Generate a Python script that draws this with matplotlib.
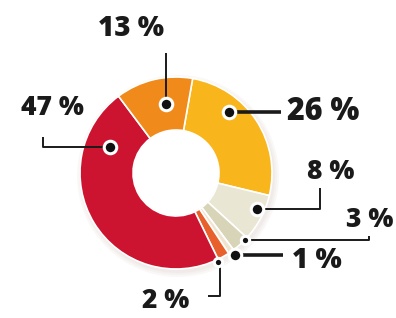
import matplotlib.pyplot as plt

# Slice shares, clockwise from the top
shares = [26, 8, 3, 1, 2, 47, 13]
labels = ["26 %", "8 %", "3 %", "1 %", "2 %", "47 %", "13 %"]
colors = ["#F9B51C", "#E9E6D4", "#D8D4B8", "#F1E4CF", "#E8602C", "#CC1430", "#F08A1B"]

W, H = 396, 318
CX, CY = 176, 173  # donut centre in pixel coords (y from top)

fig = plt.figure(figsize=(W / 100, H / 100), dpi=100)
ax = fig.add_axes([0, 0, 1, 1])


def fy(y):
    # image y (from top) -> axes y
    return H - y


# soft shadow behind the ring
for i in range(3):
    sh = plt.Circle((CX + 2, fy(CY + 3)), 97 + 2 * i, color="#a08070", alpha=0.05, lw=0)
    ax.add_patch(sh)

ax.pie(shares, colors=colors, startangle=80, counterclock=False,
       radius=96, center=(CX, fy(CY)), frame=True,
       wedgeprops=dict(width=53, edgecolor="white", linewidth=1.2))
# keep the hole clean
ax.add_patch(plt.Circle((CX, fy(CY)), 42.5, color="white", lw=0, zorder=3))
ax.set_xlim(0, W)
ax.set_ylim(0, H)
ax.axis("off")

# label layout: text position, alignment, size, dot, leader path, line width, dot size
layout = {
    "13 %": ((131, 29), "center", 20, (166, 104), [(166, 104), (166, 53)], 1.4, 9),
    "26 %": ((287, 112), "left", 22, (229, 112), [(229, 112), (281, 112)], 2.6, 9),
    "47 %": ((52, 108), "center", 19, (110, 147), [(110, 147), (43, 147), (43, 137)], 1.4, 9),
    "8 %": ((331, 172), "center", 19, (257, 209), [(257, 209), (320, 209), (320, 188)], 1.4, 9),
    "3 %": ((370, 220), "center", 19, (245, 240), [(245, 240), (369, 240), (369, 236)], 1.4, 6),
    "1 %": ((292, 261), "left", 20, (235, 255), [(235, 255), (283, 255)], 2.6, 9),
    "2 %": ((166, 301), "center", 19, (218, 262), [(220, 263), (220, 296), (208, 296)], 1.4, 6),
}

for lab in labels:
    (tx, ty), ha, fs, (dx, dy), path, lw, ms = layout[lab]
    xs = [p[0] for p in path]
    ys = [fy(p[1]) for p in path]
    ax.plot(xs, ys, color="#1a1a1a", lw=lw, solid_capstyle="butt", zorder=5)
    ax.plot(dx, fy(dy), "o", ms=ms, color="#111111", mec="white", mew=2.2, zorder=6)
    ax.text(tx, fy(ty), lab, ha=ha, va="center", fontsize=fs, fontweight="heavy",
            family=["Open Sans", "DejaVu Sans"], color="#1a1a1a", zorder=7)

fig.savefig("out.png", dpi=100, facecolor="white")
